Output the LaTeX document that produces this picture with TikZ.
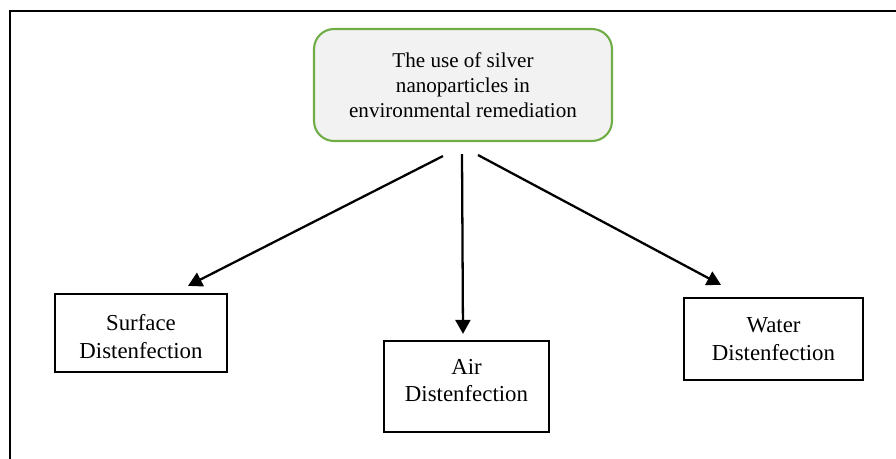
\documentclass[tikz,border=0pt]{standalone}
\usepackage{fontspec}
\setmainfont{Liberation Serif}
\usetikzlibrary{arrows.meta, positioning, calc}
\definecolor{sgreen}{HTML}{70AD47}
\definecolor{sgray}{HTML}{F2F2F2}
\tikzset{
  >=Triangle,
  headcard/.style={
    draw=sgreen, fill=sgray, line width=1.2pt,
    rounded corners=0.4cm, align=center, inner sep=0pt,
    minimum width=5.96cm, minimum height=2.24cm,
    font=\fontsize{12}{14.2}\selectfont
  },
  leaf/.style={
    draw=black, fill=white, line width=1.3pt, align=center, inner sep=0pt,
    font=\fontsize{13}{15.9}\selectfont
  },
  arr/.style={-{Triangle[length=0.28cm, width=0.3cm]}, line width=1.3pt},
  frameline/.style={line width=1.2pt}
}
\begin{document}
\begin{tikzpicture}[x=0.02cm, y=-0.02cm]
  \useasboundingbox (0,0) rectangle (896,459);
  \draw[frameline] (10,459) -- (10,11) -- (896,11);
  \node[headcard] (use) at (463,85) {The use of silver\\nanoparticles in\\environmental remediation};
  \node[leaf, minimum width=3.44cm, minimum height=1.56cm] (surf) at (141,333) {\mbox{}\\[-2.5pt]Surface\\Distenfection};
  \node[leaf, minimum width=3.3cm, minimum height=1.82cm] (air) at (466.5,386.5) {Air\\Distenfection\\[-9pt]\mbox{}};
  \node[leaf, minimum width=3.58cm, minimum height=1.64cm] (water) at (773.5,339) {Water\\Distenfection};
  \coordinate (s1) at ($(use.south)+(-20,14)$);
  \coordinate (s2) at ($(use.south)+(-1,12)$);
  \coordinate (s3) at ($(use.south)+(15,13)$);
  \coordinate (t1) at ($(surf.north)+(47,-7)$);
  \coordinate (t2) at ($(air.north)+(-3.5,-6)$);
  \coordinate (t3) at ($(water.north)+(-52.5,-12)$);
  \draw[arr] (s1) -- (t1);
  \draw[arr] (s2) -- (t2);
  \draw[arr] (s3) -- (t3);
\end{tikzpicture}
\end{document}
